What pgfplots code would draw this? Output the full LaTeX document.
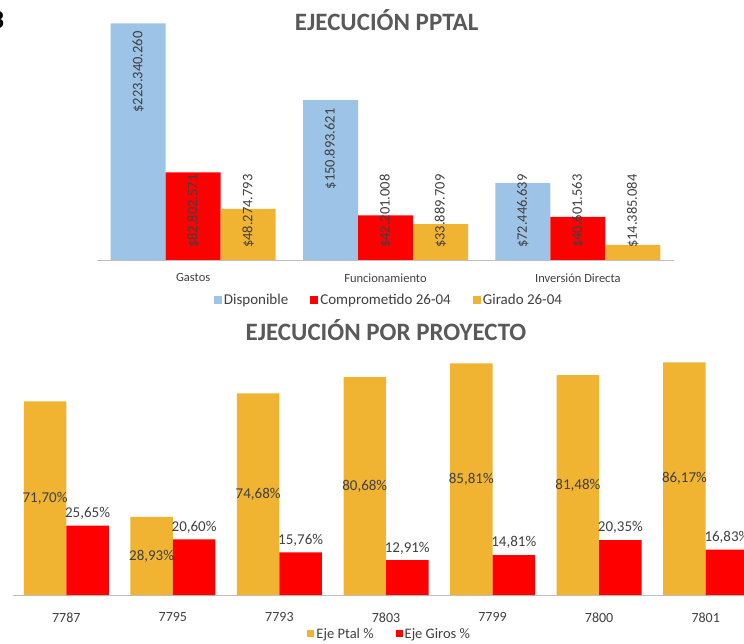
\documentclass[border=0pt]{standalone}
\usepackage{pgfplots}
\pgfplotsset{compat=1.18}
\usepackage{pgfplotstable}
\usepackage{graphicx}
\usepackage{fontspec}
\setmainfont{Carlito}

\definecolor{azul}{RGB}{157,195,230}
\definecolor{rojo}{RGB}{255,0,0}
\definecolor{oro}{RGB}{240,180,50}
\definecolor{txt}{RGB}{64,64,64}
\definecolor{tit}{RGB}{89,89,89}
\definecolor{linea}{RGB}{191,191,191}

% valores en millones de pesos; lab = etiqueta
\pgfplotstableread{
x y lab
0 223.340260 223.340.260
1 150.893621 150.893.621
2 72.446639 72.446.639
}\disponible
\pgfplotstableread{
x y lab
0 82.802571 82.802.571
1 42.201008 42.201.008
2 40.601563 40.601.563
}\comprometido
\pgfplotstableread{
x y lab
0 48.274793 48.274.793
1 33.889709 33.889.709
2 14.385084 14.385.084
}\girado

% porcentajes por proyecto
\pgfplotstableread{
x ptal giros
0 71.70 25.65
1 28.93 20.60
2 74.68 15.76
3 80.68 12.91
4 85.81 14.81
5 81.48 20.35
6 86.17 16.83
}\proyectos

\def\anc{north}

\pgfplotsset{
  panel/.style={
    scale only axis, enlargelimits=false, clip=false,
    axis x line*=bottom, axis y line=none,
    x axis line style={draw=linea, line width=0.8bp},
    major tick length=0pt, xtick style={draw=none},
    ybar=0pt, ymin=0,
    legend style={draw=none, fill=none, legend columns=-1, text=txt},
    legend image code/.code={\fill[##1] (0bp,-4bp) rectangle (8bp,4bp);},
    title style={anchor=center, text=tit,
      font=\fontsize{25bp}{30bp}\selectfont\bfseries},
  },
}

\begin{document}
\begin{tikzpicture}
\useasboundingbox (0,0) rectangle (744bp,644bp);
\clip (0,0) rectangle (744bp,644bp);

\node[text={RGB:red,255;green,192;blue,0}, font=\fontsize{26bp}{30bp}\selectfont\bfseries] at (-2.5bp,624bp) {3};

\begin{axis}[panel,
  at={(97bp,384bp)}, anchor=south west,
  width=577bp, height=249bp,
  xmin=-0.5, xmax=2.5, ymax=235,
  bar width=55bp,
  xtick={0,1,2},
  xticklabels={Gastos,Funcionamiento,Inversión Directa},
  xticklabel style={text=txt, font=\fontsize{12.5bp}{15bp}\selectfont, yshift=-10bp},
  title={EJECUCIÓN PPTAL},
  title style={at={(0.502,0.94)}},
  legend style={at={(0.506,-0.16)}, anchor=center,
    font=\fontsize{15bp}{18bp}\selectfont,
    /tikz/every even column/.append style={column sep=20bp}},
  nodes near coords={\rotatebox{90}{\$\pgfplotspointmeta}},
  point meta=explicit symbolic,
  visualization depends on={y \as \yv},
  nodes near coords style={font=\fontsize{14.5bp}{17bp}\selectfont, text=txt,
    anchor=\anc, inner xsep=0pt, inner ysep=8bp},
  coordinate style/.condition={y<120}{/utils/exec={\def\anc{south}},
    shift={(axis direction cs:0,-\yv+3.8)}},
]
\addplot[fill=azul, draw=none] table[x=x, y=y, meta=lab] {\disponible};
\addlegendentry{Disponible}
\addplot[fill=rojo, draw=none] table[x=x, y=y, meta=lab] {\comprometido};
\addlegendentry{Comprometido 26-04}
\addplot[fill=oro, draw=none] table[x=x, y=y, meta=lab] {\girado};
\addlegendentry{Girado 26-04}
\end{axis}

\begin{axis}[panel,
  at={(13bp,49bp)}, anchor=south west,
  width=746bp, height=243bp,
  xmin=-0.5, xmax=6.5, ymax=90,
  bar width=42.5bp,
  xtick={0,...,6},
  xticklabels={7787,7795,7793,7803,7799,7800,7801},
  xticklabel style={text=txt, font=\fontsize{14bp}{16bp}\selectfont, yshift=-14bp},
  title={EJECUCIÓN POR PROYECTO},
  title style={at={(0.5,1.066)}},
  legend style={at={(0.505,-0.16)}, anchor=center,
    font=\fontsize{14.5bp}{17bp}\selectfont,
    /tikz/every even column/.append style={column sep=20bp}},
  legend image code/.code={\fill[#1] (0bp,-3.5bp) rectangle (7bp,3.5bp);},
  nodes near coords={\pgfmathprintnumber[fixed, fixed zerofill, precision=2, use comma, assume math mode=true]{\pgfplotspointmeta}\%},
  point meta=y,
  nodes near coords style={font=\fontsize{15bp}{18bp}\selectfont, text=txt},
]
\addplot[fill=oro, draw=none,
  visualization depends on={y \as \yv},
  nodes near coords style={anchor=center, shift={(axis direction cs:0,-\yv/2)}}]
  table[x=x, y=ptal] {\proyectos};
\addlegendentry{Eje Ptal \%}
\addplot[fill=rojo, draw=none,
  nodes near coords style={anchor=south, inner ysep=6bp}]
  table[x=x, y=giros] {\proyectos};
\addlegendentry{Eje Giros \%}
\end{axis}
\end{tikzpicture}
\end{document}
